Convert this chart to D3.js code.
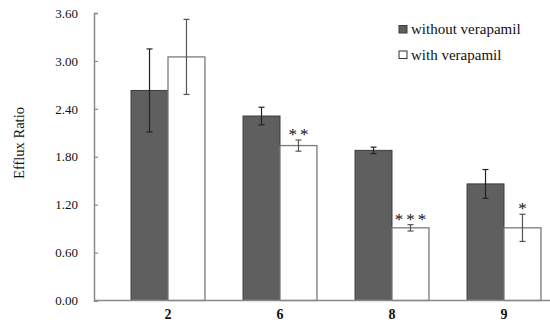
<!DOCTYPE html>
<html>
<head>
<meta charset="utf-8">
<script src="https://cdn.jsdelivr.net/npm/d3@7"></script>
<style>
  body { margin: 0; background: #fff; }
  svg text { font-family: "Liberation Serif", "Times New Roman", serif; fill: #111; }
</style>
</head>
<body>
<svg id="chart" width="550" height="330"></svg>
<script>
// Values
var categories = ["2", "6", "8", "9"];
var seriesNames = ["without verapamil", "with verapamil"];
var withoutVals = [2.63, 2.31, 1.88, 1.46];
var withoutErr = [0.52, 0.11, 0.04, 0.18];
var withVals = [3.05, 1.94, 0.91, 0.91];
var withErr = [0.47, 0.07, 0.04, 0.17];
var stars = ["", "**", "***", "*"];
var yTicks = [0, 0.6, 1.2, 1.8, 2.4, 3.0, 3.6];

var svg = d3.select("#chart");

// plot area
var axisX = 94, plotTop = 13, plotBottom = 300.5;

var y = d3.scaleLinear().domain([0, 3.6]).range([plotBottom, plotTop]);

// categories step evenly, the last group runs to the right edge
var x = d3.scaleBand()
    .domain(categories)
    .range([112, 560])
    .paddingInner(0.34)
    .paddingOuter(0.17);

var xs = d3.scaleBand()
    .domain([0, 1])
    .range([0, x.bandwidth()]);

// Y axis
var yAxis = d3.axisRight(y)
    .tickValues(yTicks)
    .tickSize(4)
    .tickFormat(d3.format(".2f"));

var gy = svg.append("g")
    .attr("transform", "translate(" + axisX + ",0)")
    .call(yAxis);
gy.select(".domain").attr("stroke", "#8a8a8a").attr("stroke-width", 1.5);
gy.selectAll(".tick line").attr("stroke", "#8a8a8a").attr("stroke-width", 1.2);
gy.selectAll(".tick text")
    .attr("x", -16)
    .attr("text-anchor", "end")
    .attr("font-size", 13)
    .attr("fill", "#111");

// Y label
svg.append("text")
    .attr("transform", "translate(24,143) rotate(-90)")
    .attr("text-anchor", "middle")
    .attr("font-size", 14.5)
    .text("Efflux Ratio");

// bars
var groups = svg.selectAll(".grp")
    .data(categories)
    .enter().append("g")
    .attr("class", "grp")
    .attr("transform", function (d) { return "translate(" + x(d) + ",0)"; });

groups.append("rect")
    .attr("x", xs(0))
    .attr("width", xs.bandwidth())
    .attr("y", function (d, i) { return y(withoutVals[i]); })
    .attr("height", function (d, i) { return y(0) - y(withoutVals[i]); })
    .attr("fill", "#5f5f5f")
    .attr("stroke", "#3c3c3c")
    .attr("stroke-width", 1);

groups.append("rect")
    .attr("x", xs(1))
    .attr("width", xs.bandwidth())
    .attr("y", function (d, i) { return y(withVals[i]); })
    .attr("height", function (d, i) { return y(0) - y(withVals[i]); })
    .attr("fill", "#fff")
    .attr("stroke", "#7a7a7a")
    .attr("stroke-width", 1.3);

// error bars
function errBar(g, cx, v, e, col) {
    g.append("line")
        .attr("x1", cx).attr("x2", cx)
        .attr("y1", y(v + e)).attr("y2", y(v - e))
        .attr("stroke", col).attr("stroke-width", 1.2);
    [v + e, v - e].forEach(function (t) {
        g.append("line")
            .attr("x1", cx - 3).attr("x2", cx + 3)
            .attr("y1", y(t)).attr("y2", y(t))
            .attr("stroke", col).attr("stroke-width", 1.2);
    });
}

groups.each(function (d, i) {
    var g = d3.select(this);
    var c0 = xs(0) + xs.bandwidth() / 2;
    var c1 = xs(1) + xs.bandwidth() / 2;
    errBar(g, c0, withoutVals[i], withoutErr[i], "#222");
    errBar(g, c1, withVals[i], withErr[i], "#555");
    if (stars[i]) {
        g.append("text")
            .attr("x", c1 + 1.5)
            .attr("y", y(withVals[i] + withErr[i]))
            .attr("text-anchor", "middle")
            .attr("font-size", 17)
            .attr("letter-spacing", 3)
            .attr("fill", "#222")
            .text(stars[i]);
    }
});

// X axis baseline
svg.append("line")
    .attr("x1", axisX).attr("x2", 550)
    .attr("y1", plotBottom).attr("y2", plotBottom)
    .attr("stroke", "#8a8a8a").attr("stroke-width", 1.5);

// category labels
svg.selectAll(".cat")
    .data(categories)
    .enter().append("text")
    .attr("class", "cat")
    .attr("x", function (d) { return x(d) + x.bandwidth() / 2; })
    .attr("y", 319)
    .attr("text-anchor", "middle")
    .attr("font-size", 14)
    .attr("font-weight", "bold")
    .text(function (d) { return d; });

// legend
var legend = svg.selectAll(".leg")
    .data(seriesNames)
    .enter().append("g")
    .attr("class", "leg")
    .attr("transform", function (d, i) { return "translate(399," + (25.5 + i * 25.5) + ")"; });

legend.append("rect")
    .attr("width", 8).attr("height", 7.5)
    .attr("fill", function (d, i) { return i === 0 ? "#5f5f5f" : "#fff"; })
    .attr("stroke", function (d, i) { return i === 0 ? "#3c3c3c" : "#333"; })
    .attr("stroke-width", 1);

legend.append("text")
    .attr("x", 12)
    .attr("y", 8.5)
    .attr("font-size", 15)
    .text(function (d) { return d; });
</script>
</body>
</html>
